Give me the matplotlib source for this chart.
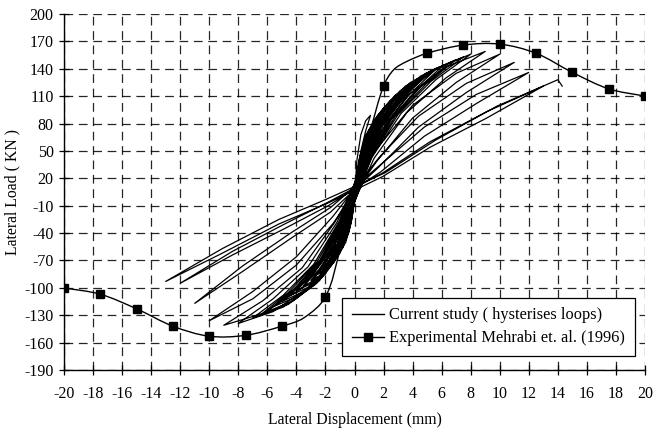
import numpy as np
import matplotlib
matplotlib.use("Agg")
import matplotlib.pyplot as plt
from matplotlib.path import Path
from matplotlib.patches import PathPatch
from matplotlib.lines import Line2D

plt.rcParams['font.family'] = ['Liberation Serif', 'DejaVu Serif']
plt.rcParams['axes.unicode_minus'] = False

# ---------------- data ----------------
# Experimental envelope (Mehrabi et al. 1996) markers
exp_x = [-20, -17.5, -15, -12.5, -10, -7.5, -5, -2, 2, 5, 7.5, 10, 12.5, 15, 17.5, 20]
exp_y = [-100, -107, -123, -142, -153, -152, -142, -110, 121, 157, 166, 167, 157, 136, 118, 110]
# points (markers + bends)
exp_curve_x = [-20, -17.5, -15, -12.5, -10, -7.5, -5, -3.5, -2, -1.0, 0.7, 1.1, 2, 2.7, 3.6, 5, 7.5, 10, 12.5, 15, 17.5, 20]
exp_curve_y = [-100, -107, -123, -142, -153, -152, -142, -133, -110, -58, 51, 73, 121, 139, 148, 157, 166, 167, 157, 136, 118, 110]

# Hysteresis cycles: peaks and branch ordinates read at 15 %, 40 %, 70 % of peak displacement
pos_peak_x = [1.1, 2, 2.5, 3, 3.5, 4, 4.5, 5, 5.5, 6, 6.5, 7, 7.5, 8, 9, 10, 11, 12, 13, 14]
pos_peak_y = [89, 92, 100, 108, 116, 122, 128, 134, 138, 142, 146, 150, 153, 156, 159, 156, 147, 136, 121, 128]
pos_load_y = [[40, 68, 83], [40, 68, 84], [43, 73, 91], [46, 79, 98], [50, 85, 105],
              [52, 89, 111], [55, 93, 116], [57, 97, 121], [58, 100, 125], [60, 103, 128],
              [60, 105, 132], [61, 107, 135], [61, 108, 138], [61, 109, 140], [60, 110, 142],
              [52, 100, 135], [42, 88, 124], [35, 76, 112], [26, 60, 93], [26, 62, 99]]
pos_unload_y = [[72, 50, 22], [75, 55, 26], [82, 60, 28], [88, 64, 30], [95, 69, 33],
                [100, 72, 35], [105, 76, 37], [110, 79, 38], [113, 81, 39], [116, 83, 40],
                [120, 86, 41], [123, 88, 42], [126, 90, 43], [128, 91, 43], [130, 92, 42],
                [125, 86, 38], [114, 76, 32], [102, 66, 27], [86, 54, 22]]
neg_peak_x = [-1, -1.5, -2, -2.5, -3, -3.5, -4, -4.5, -5, -5.5, -6, -6.5, -7, -8, -9, -10, -11, -12, -13]
neg_peak_y = [-55, -68, -77, -85, -92, -98, -103, -109, -115, -120, -126, -130, -133, -139, -141, -136, -117, -95, -93]
neg_load_y = [[-22, -40, -50], [-28, -50, -62], [-32, -56, -70], [-35, -62, -78],
              [-38, -67, -84], [-40, -72, -89], [-42, -76, -94], [-44, -80, -99],
              [-46, -85, -104], [-48, -88, -109], [-50, -92, -114], [-51, -95, -118],
              [-52, -97, -121], [-53, -100, -126], [-52, -100, -128], [-30, -75, -112],
              [-17, -46, -82], [-10, -35, -64], [-8, -30, -62]]
neg_unload_y = [[-45, -30, -12], [-56, -38, -15], [-63, -43, -17], [-70, -48, -19],
                [-75, -52, -20], [-80, -55, -21], [-84, -58, -22], [-88, -61, -23],
                [-93, -64, -24], [-97, -67, -25], [-102, -70, -26], [-105, -72, -27],
                [-108, -74, -27], [-112, -77, -28], [-114, -78, -28], [-104, -66, -22],
                [-76, -40, -12], [-60, -30, -6], [-57, -25, -3]]
end_x = [14.3]
end_y = [121]

x_ticks = list(range(-20, 21, 2))
y_ticks = list(range(-190, 201, 30))

# ---------------- build hysteresis path ----------------
fr = [0.15, 0.4, 0.7]
hx, hy = [0.0], [0.0]
for i in range(len(pos_peak_x)):
    px, py = pos_peak_x[i], pos_peak_y[i]
    for f, v in zip(fr, pos_load_y[i]):
        hx.append(f * px); hy.append(v)
    hx.append(px); hy.append(py)
    if i < len(pos_unload_y):
        for f, v in zip(fr[::-1], pos_unload_y[i]):
            hx.append(f * px); hy.append(v)
    if i < len(neg_peak_x):
        nx, ny = neg_peak_x[i], neg_peak_y[i]
        for f, v in zip(fr, neg_load_y[i]):
            hx.append(f * nx); hy.append(v)
        hx.append(nx); hy.append(ny)
        for f, v in zip(fr[::-1], neg_unload_y[i]):
            hx.append(f * nx); hy.append(v)
hx += end_x
hy += end_y


def catmull_path(xs, ys, sx=14.5, sy=0.913):
    # tangents evaluated in (approximate) screen proportions
    pts = np.column_stack([np.asarray(xs) * sx, np.asarray(ys) * sy]).astype(float)
    verts = [pts[0]]
    codes = [Path.MOVETO]
    for k in range(len(pts) - 1):
        p0 = pts[k - 1] if k > 0 else pts[k]
        p1 = pts[k]
        p2 = pts[k + 1]
        p3 = pts[k + 2] if k + 2 < len(pts) else pts[k + 1]
        d01 = max(np.hypot(*(p1 - p0)), 1e-9)
        d12 = max(np.hypot(*(p2 - p1)), 1e-9)
        d23 = max(np.hypot(*(p3 - p2)), 1e-9)
        t1 = (p2 - p0) / (d01 + d12) * d12
        t2 = (p3 - p1) / (d12 + d23) * d12
        c1 = p1 + t1 / 3.0
        c2 = p2 - t2 / 3.0
        verts += [c1, c2, p2]
        codes += [Path.CURVE4] * 3
    verts = np.array(verts)
    verts[:, 0] /= sx
    verts[:, 1] /= sy
    return Path(verts, codes)


# ---------------- figure ----------------
fig = plt.figure(figsize=(6.68, 4.28), dpi=100)
ax = fig.add_axes([64 / 668, 1 - 370 / 428, 581 / 668, 356 / 428])

ax.set_xlim(-20, 20)
ax.set_ylim(-190, 200)
ax.set_xticks(x_ticks)
ax.set_yticks(y_ticks)
ax.grid(True, color='black', linestyle=(0, (7, 4.5)), linewidth=0.9, alpha=0.85)
ax.set_axisbelow(True)
for s in ['top', 'right']:
    ax.spines[s].set_visible(False)
for s in ['left', 'bottom']:
    ax.spines[s].set_linewidth(1.0)
ax.tick_params(axis='both', direction='inout', length=7, width=0.9,
               labelsize=11.5, colors='black')
ax.tick_params(axis='x', pad=8)
ax.tick_params(axis='y', pad=4)

# hysteresis loops
ax.plot(hx, hy, color='black', linewidth=0.9, zorder=3)

# experimental curve
patch = PathPatch(catmull_path(exp_curve_x, exp_curve_y), facecolor='none',
                  edgecolor='black', linewidth=1.0, zorder=4)
ax.add_patch(patch)
ax.plot(exp_x, exp_y, linestyle='none', marker='s', markersize=5.5,
        color='black', zorder=5)

ax.set_xlabel('Lateral Displacement (mm)', fontsize=11.3, labelpad=7)
ax.set_ylabel('Lateral Load ( KN )', fontsize=11.3, labelpad=3)

handles = [Line2D([], [], color='black', linewidth=1.0),
           Line2D([], [], color='black', linewidth=1.0, marker='s', markersize=5.5)]
leg = ax.legend(handles, ['Current study ( hysterises loops)',
                          'Experimental Mehrabi et. al. (1996)'],
                loc='lower right', bbox_to_anchor=(0.983, 0.039),
                borderaxespad=0, fontsize=11.8, frameon=True, fancybox=False,
                edgecolor='black', framealpha=1, handlelength=2.0,
                handletextpad=0.3, labelspacing=0.42, borderpad=0.6)
leg.get_frame().set_linewidth(0.9)
leg.set_zorder(10)

fig.savefig('out.png', dpi=100)
